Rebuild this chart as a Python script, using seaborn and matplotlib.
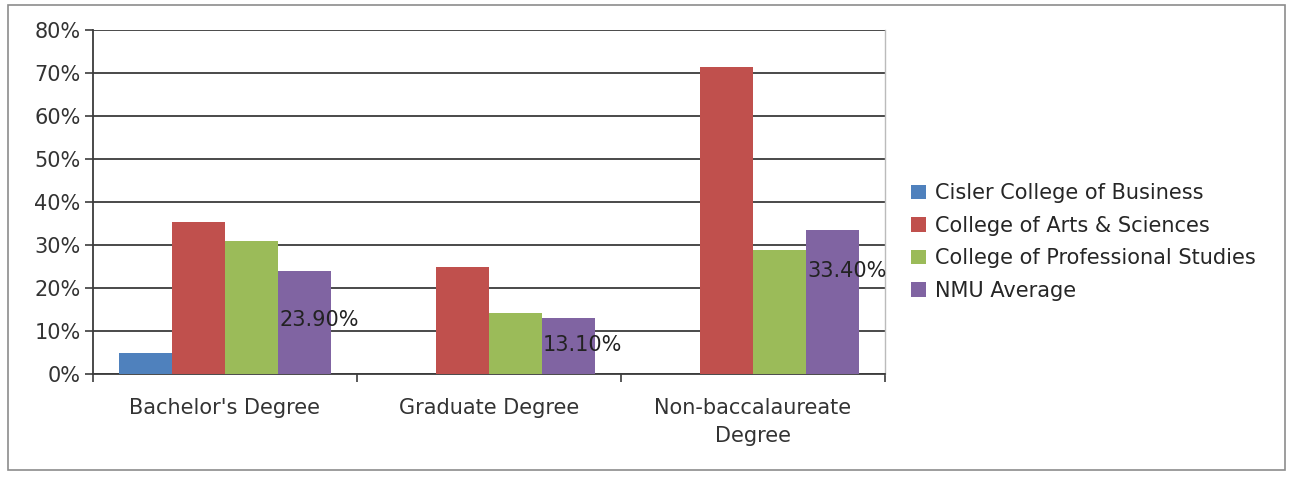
import matplotlib
matplotlib.use("Agg")
import matplotlib.pyplot as plt
from matplotlib.patches import Rectangle
import seaborn as sns
import pandas as pd

categories = ["Bachelor's Degree", "Graduate Degree", "Non-baccalaureate\nDegree"]
series = ["Cisler College of Business", "College of Arts & Sciences",
          "College of Professional Studies", "NMU Average"]
cisler = [4.8, 0.0, 0.0]
arts = [35.4, 24.9, 71.5]
professional = [30.9, 14.1, 28.8]
nmu_avg = [23.9, 13.1, 33.4]
avg_labels = ["23.90%", "13.10%", "33.40%"]
yticks = [0, 10, 20, 30, 40, 50, 60, 70, 80]
colors = ["#4F81BD", "#C0504D", "#9BBB59", "#8064A2"]

rows = []
for s, vals in zip(series, [cisler, arts, professional, nmu_avg]):
    for c, v in zip(categories, vals):
        rows.append({"Category": c, "Series": s, "Value": v})
df = pd.DataFrame(rows)

sns.set_theme(style="white")
plt.rcParams['font.family'] = ['DejaVu Sans']

FS = 15

fig = plt.figure(figsize=(12.92, 4.79), dpi=100)
ax = fig.add_axes([93/1292, 1-374/479, (885-93)/1292, (374-30)/479])

sns.barplot(data=df, x="Category", y="Value", hue="Series", order=categories,
            hue_order=series, palette=colors, width=0.8, gap=0,
            saturation=1, ax=ax, legend=True, zorder=3, linewidth=0)

ax.set_ylim(0, 80)
ax.set_xlim(-0.5, 2.5)
ax.set_yticks(yticks)
ax.set_yticklabels([f"{t}%" for t in yticks])
ax.set_xlabel("")
ax.set_ylabel("")
for t in yticks:
    ax.axhline(t, color="#3c3c3c", lw=1.3, zorder=1)

ax.tick_params(axis="y", which="major", length=6, width=1.2, color="#3c3c3c",
               direction="out", left=True, pad=3, labelsize=FS, labelcolor="#333333")
ax.tick_params(axis="x", which="major", length=0, pad=17, labelsize=FS, labelcolor="#333333")
for lab in ax.get_xticklabels():
    lab.set_linespacing(1.5)
ax.set_xticks([-0.5, 0.5, 1.5, 2.5], minor=True)
ax.tick_params(axis="x", which="minor", length=6, width=1.2, color="#3c3c3c",
               direction="out", bottom=True)

ax.spines["top"].set_visible(False)
ax.spines["left"].set_color("#3c3c3c")
ax.spines["left"].set_linewidth(1.3)
ax.spines["bottom"].set_color("#3c3c3c")
ax.spines["bottom"].set_linewidth(1.3)
ax.spines["right"].set_color("#bbbbbb")
ax.spines["right"].set_linewidth(1.0)

# data labels on NMU Average bars (Excel-style placement)
label_frac = [0.53, 0.51, 0.72]
avg_container = ax.containers[3]
for bar, lab, f in zip(avg_container, avg_labels, label_frac):
    x = bar.get_x() + 0.005
    y = bar.get_height() * f
    ax.text(x, y, lab, ha="left", va="center", fontsize=FS, color="#222222", zorder=5)

handles, labels = ax.get_legend_handles_labels()
ax.legend_.remove()
fig.legend(handles, labels, loc="center left", bbox_to_anchor=(911/1292, 1-242/479),
           frameon=False, fontsize=FS, handlelength=0.7, handleheight=0.7,
           handletextpad=0.45, labelspacing=0.6, borderaxespad=0, borderpad=0)

fig.patches.append(Rectangle((8/1292, 1-470/479), 1277/1292, 465/479,
                             transform=fig.transFigure, fill=False,
                             edgecolor="#8c8c8c", lw=1.2))

fig.savefig("out.png", dpi=100)
